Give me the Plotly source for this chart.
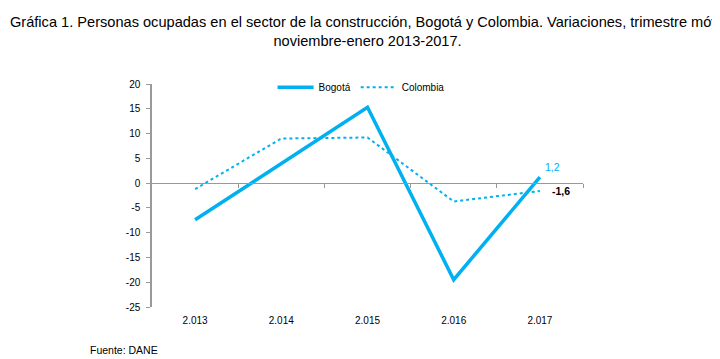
import plotly.graph_objects as go

years = ["2.013", "2.014", "2.015", "2.016", "2.017"]
bogota = [-7.4, 3.9, 15.3, -19.5, 1.2]
colombia = [-1.2, 9.0, 9.2, -3.7, -1.6]
yticks = [20, 15, 10, 5, 0, -5, -10, -15, -20, -25]

xi = list(range(len(years)))
blue = "#00B0F0"
font = "Liberation Sans, Arial, sans-serif"

fig = go.Figure()
fig.add_trace(go.Scatter(x=xi, y=bogota, name="Bogotá", mode="lines",
                         line=dict(color=blue, width=3.5)))
fig.add_trace(go.Scatter(x=xi, y=colombia, name="Colombia", mode="lines",
                         line=dict(color=blue, width=2, dash="dot"), xaxis="x2"))

ymin, ymax = -25, 20
fig.update_layout(
    width=712, height=351,
    margin=dict(l=144, r=137, t=76, b=52, autoexpand=False),
    paper_bgcolor="white", plot_bgcolor="white",
    font=dict(family=font, size=10, color="black"),
    title=dict(text="Gráfica 1. Personas ocupadas en el sector de la construcción, Bogotá y Colombia. Variaciones, trimestre móvil<br>noviembre-enero 2013-2017.",
               x=0.505, xanchor="center", y=0.945, yanchor="top",
               font=dict(family=font, size=14.6, color="black")),
    showlegend=True,
    legend=dict(orientation="h", x=0.485, xanchor="center", y=0.985, yanchor="middle",
                font=dict(size=10), bgcolor="rgba(0,0,0,0)", itemwidth=36,
                tracegroupgap=0),
    xaxis=dict(range=[-0.5, 4.5], tickvals=xi, ticktext=years, showline=False,
               showgrid=False, zeroline=False, ticks="outside", ticklen=4,
               tickcolor="rgba(0,0,0,0)", tickfont=dict(size=10)),
    xaxis2=dict(range=[-0.5, 4.5], overlaying="x", anchor="free",
                position=(0 - ymin) / (ymax - ymin),
                tickvals=[i + 0.5 for i in xi], showticklabels=False,
                showline=True, linecolor="#999999", linewidth=1,
                ticks="outside", ticklen=4, tickcolor="#999999",
                showgrid=False, zeroline=False),
    yaxis=dict(range=[ymin, ymax], tickvals=yticks, ticktext=[str(v) for v in yticks],
               showline=True, linecolor="#999999", linewidth=1.5,
               ticks="outside", ticklen=4, tickcolor="#999999", ticklabelstandoff=4,
               showgrid=False, zeroline=False, tickfont=dict(size=10)),
)

fig.add_annotation(x=xi[-1], y=bogota[-1], text="1,2", showarrow=False,
                   xref="x", yref="y", xshift=13, yshift=10,
                   font=dict(color=blue, size=10.5, family=font))
fig.add_annotation(x=xi[-1], y=colombia[-1], text="<b>-1,6</b>", showarrow=False,
                   xref="x", yref="y", xshift=21, yshift=0,
                   font=dict(color="black", size=10.5, family=font))
fig.add_annotation(x=-0.148, y=-0.193, xref="paper", yref="paper", xanchor="left",
                   text="Fuente: DANE", showarrow=False,
                   font=dict(size=10.5, family=font, color="black"), yanchor="middle")

fig.write_html("out.html")
